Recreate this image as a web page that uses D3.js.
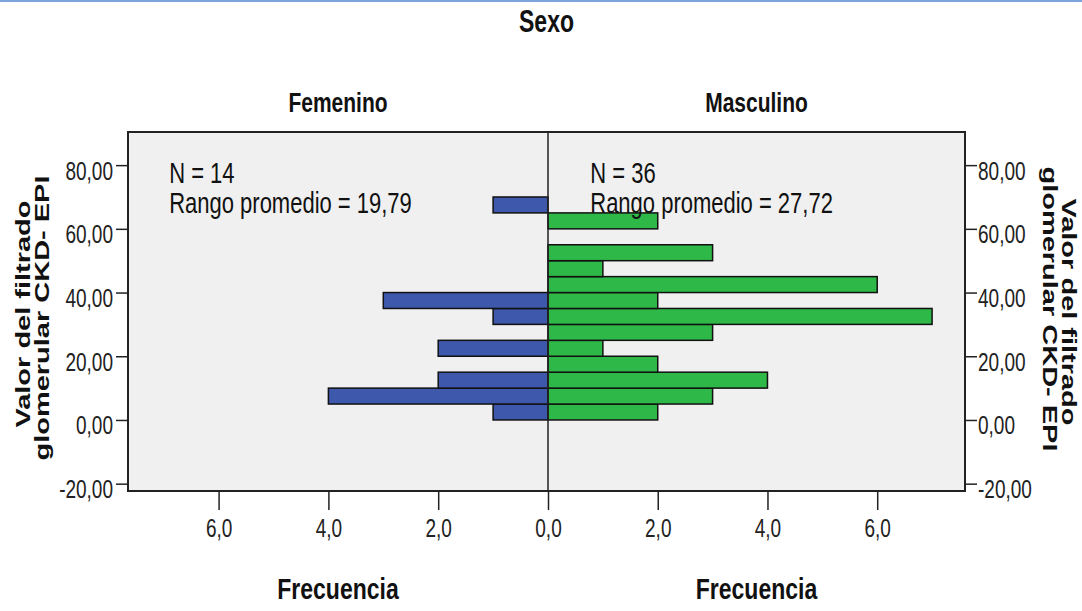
<!DOCTYPE html>
<html>
<head>
<meta charset="utf-8">
<script src="https://cdn.jsdelivr.net/npm/d3@7"></script>
<style>
  body { margin: 0; background: #fff; }
  svg  { display: block; font-family: "Liberation Sans", Arial, sans-serif; }
</style>
</head>
<body>
<svg id="chart" width="1082" height="611"></svg>
<script>
// ── data ────────────────────────────────────────────────────────────────────
const binStarts  = [0, 5, 10, 15, 20, 25, 30, 35, 40, 45, 50, 55, 60, 65];
const binWidth   = 5;
const femenino   = [1, 4, 2, 0, 2, 0, 1, 3, 0, 0, 0, 0, 0, 1];
const masculino  = [2, 3, 4, 2, 1, 3, 7, 2, 6, 1, 3, 0, 2, 0];
const groups     = ["Femenino", "Masculino"];
const nValues    = [14, 36];
const rangoProm  = [19.79, 27.72];
const yTicks     = [-20, 0, 20, 40, 60, 80];
const xTicks     = [0, 2, 4, 6];
const title      = "Sexo";
const xTitle     = "Frecuencia";
const yTitle     = ["Valor del filtrado", "glomerular CKD- EPI"];

// ── layout ──────────────────────────────────────────────────────────────────
const svg    = d3.select("#chart");
const plot   = { left: 128, right: 965, top: 132, bottom: 491 };
const center = 548;
const STRETCH = 1.4;  // the source image is stretched vertically

const locale = d3.formatLocale({ decimal: ",", thousands: ".", grouping: [3], currency: ["", ""], minus: "-" });
const fmtY   = locale.format(".2f");
const fmtX   = locale.format(".1f");

const y  = d3.scaleLinear().domain([-22.3, 90.4]).range([plot.bottom, plot.top]);
const xL = d3.scaleLinear().domain([0, 7.65]).range([center, plot.left]);
const xR = d3.scaleLinear().domain([0, 7.6]).range([center, plot.right]);

const bins = binStarts.map((s, i) => ({ start: s, f: femenino[i], m: masculino[i] }));

// thin blue rule at the very top
svg.append("rect").attr("x", 0).attr("y", 0).attr("width", 1082).attr("height", 2).attr("fill", "#7aa6dc");

// plot background
svg.append("rect").attr("x", plot.left).attr("y", plot.top)
  .attr("width", plot.right - plot.left).attr("height", plot.bottom - plot.top).attr("fill", "#f0f0f0");

// bars
svg.append("g").selectAll("rect").data(bins.filter(d => d.f > 0)).join("rect")
  .attr("x", d => xL(d.f)).attr("width", d => center - xL(d.f))
  .attr("y", d => y(d.start + binWidth)).attr("height", d => y(d.start) - y(d.start + binWidth))
  .attr("fill", "#3e58ac").attr("stroke", "#111").attr("stroke-width", 1.5);

svg.append("g").selectAll("rect").data(bins.filter(d => d.m > 0)).join("rect")
  .attr("x", center).attr("width", d => xR(d.m) - center)
  .attr("y", d => y(d.start + binWidth)).attr("height", d => y(d.start) - y(d.start + binWidth))
  .attr("fill", "#2eb848").attr("stroke", "#111").attr("stroke-width", 1.5);

// center line + frame
svg.append("line").attr("x1", center).attr("x2", center).attr("y1", plot.top).attr("y2", plot.bottom)
  .attr("stroke", "#222").attr("stroke-width", 1.5);
svg.append("rect").attr("x", plot.left).attr("y", plot.top)
  .attr("width", plot.right - plot.left).attr("height", plot.bottom - plot.top)
  .attr("fill", "none").attr("stroke", "#222").attr("stroke-width", 2);

// axes
function styleAxis(g, dx, dy, anchor) {
  g.select(".domain").remove();
  g.selectAll(".tick line").attr("stroke", "#222").attr("stroke-width", 1.5);
  g.selectAll(".tick text")
    .attr("x", null).attr("y", null).attr("dy", null)
    .attr("text-anchor", anchor).attr("fill", "#222").style("font-size", "19px")
    .attr("transform", `translate(${dx},${dy}) scale(1,${STRETCH})`);
}

svg.append("g").attr("transform", `translate(${plot.left},0)`)
  .call(d3.axisLeft(y).tickValues(yTicks).tickSize(12).tickFormat(fmtY))
  .call(g => styleAxis(g, -15, 14, "end"));
svg.append("g").attr("transform", `translate(${plot.right},0)`)
  .call(d3.axisRight(y).tickValues(yTicks).tickSize(12).tickFormat(fmtY))
  .call(g => styleAxis(g, 13, 14, "start"));
svg.append("g").attr("transform", `translate(0,${plot.bottom})`)
  .call(d3.axisBottom(xL).tickValues(xTicks).tickSize(19).tickFormat(fmtX))
  .call(g => styleAxis(g, 0, 46, "middle"));
svg.append("g").attr("transform", `translate(0,${plot.bottom})`)
  .call(d3.axisBottom(xR).tickValues(xTicks.filter(v => v > 0)).tickSize(19).tickFormat(fmtX))
  .call(g => styleAxis(g, 0, 46, "middle"));

// text helper
function label(x, y0, text, size, weight, anchor, sy) {
  svg.append("text")
    .attr("transform", `translate(${x},${y0}) scale(1,${sy})`)
    .attr("text-anchor", anchor).attr("fill", "#111")
    .style("font-size", size + "px").style("font-weight", weight)
    .text(text);
}

const halfCenters = [(plot.left + center) / 2, (center + plot.right) / 2];

label((plot.left + plot.right) / 2, 32, title, 23, "bold", "middle", 1.4);
groups.forEach((g, i) => label(halfCenters[i], 112, g, 21, "bold", "middle", 1.35));
halfCenters.forEach(cx => label(cx, 599, xTitle, 23, "bold", "middle", 1.28));

// stats inside the plot
const statX = [xL(6.9), xR(0.77)];
groups.forEach((g, i) => {
  label(statX[i], 183, `N = ${nValues[i]}`, 22, "normal", "start", 1.3);
  label(statX[i], 213, `Rango promedio = ${locale.format(".2f")(rangoProm[i])}`, 22, "normal", "start", 1.3);
});

// rotated y titles
function vlabel(x, yc, text, rot) {
  svg.append("text")
    .attr("transform", `translate(${x},${yc}) rotate(${rot}) scale(1.45,1)`)
    .attr("text-anchor", "middle").attr("fill", "#111")
    .style("font-size", "20px").style("font-weight", "bold")
    .text(text);
}
vlabel(30, 314, yTitle[0], -90);
vlabel(49, 318, yTitle[1], -90);
vlabel(1062, 312, yTitle[0], 90);
vlabel(1043, 309, yTitle[1], 90);
</script>
</body>
</html>
